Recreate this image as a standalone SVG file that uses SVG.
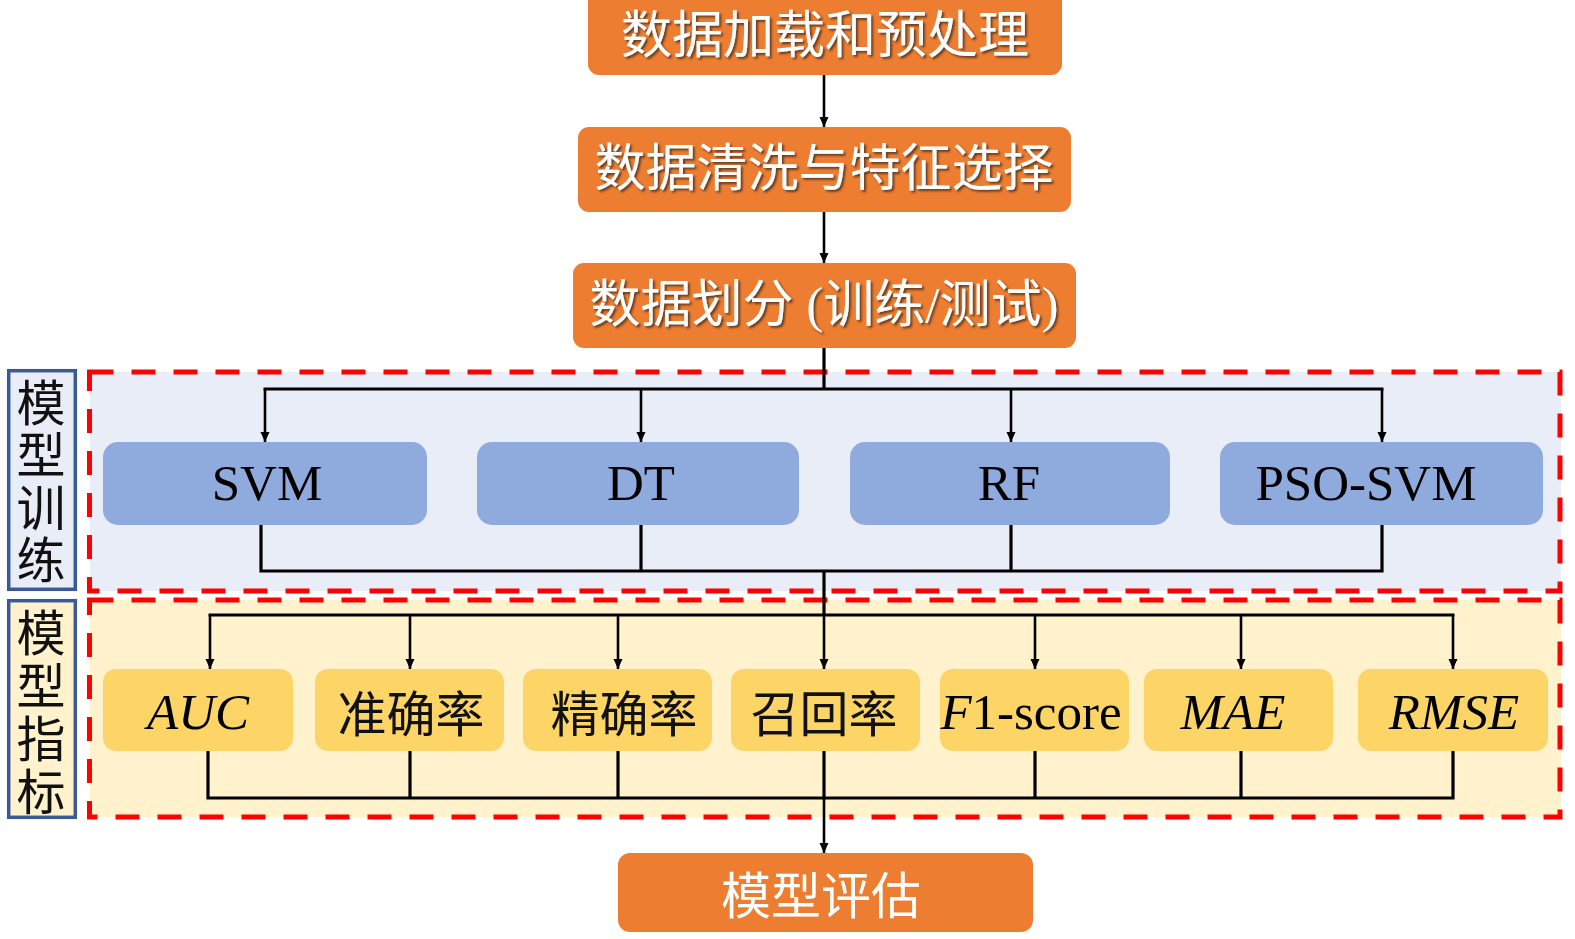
<svg xmlns="http://www.w3.org/2000/svg" width="1575" height="939" viewBox="0 0 1575 939">
<style>
.orange{fill:#ED7D31}
.blue{fill:#8FAADC}
.yellow{fill:#FCD566}
.zh-w{font-family:"Liberation Serif","Noto Sans CJK SC",serif;font-size:51px;fill:#fff;text-anchor:middle}
.lat{font-family:"Liberation Serif","Noto Sans CJK SC",serif;font-size:51px;fill:#000;text-anchor:middle}
.zh{font-family:"Noto Sans CJK SC",sans-serif;font-size:49px;fill:#111;text-anchor:middle}
.vt{font-family:"Noto Sans CJK SC",sans-serif;font-size:49px;fill:#111;writing-mode:vertical-rl;text-anchor:start}
.it{font-style:italic}
.region{stroke:#FF0000;stroke-width:5;stroke-dasharray:24 18;fill:none}
.label{stroke:#3A5A95;stroke-width:3.5}
.conn line,.conn polyline{stroke:#000;stroke-width:3.2;fill:none}
.conn .arr{stroke-width:2.6;marker-end:url(#ah)}
</style>
<defs>
<marker id="ah" viewBox="0 0 10 10" refX="10" refY="5" markerWidth="10" markerHeight="10" markerUnits="userSpaceOnUse" orient="auto"><path d="M0,0.5 L10,5 L0,9.5 z" fill="#000"/></marker>
<filter id="sh" x="-10%" y="-20%" width="120%" height="150%"><feDropShadow dx="2" dy="2" stdDeviation="0.8" flood-color="#3a2a1a" flood-opacity="0.75"/></filter>
</defs>

<!-- regions -->
<g id="region-train">
<rect x="90" y="372" width="1471" height="219" fill="#E9EDF7"/>
<rect class="region" x="89.5" y="372" width="1470.5" height="219"/>
</g>
<g id="region-metric">
<rect x="90" y="600" width="1471" height="217" fill="#FFF2CC"/>
<rect class="region" x="89.5" y="600" width="1470.5" height="217"/>
</g>

<g id="label-train">
<rect class="label" x="8.7" y="370.7" width="66.6" height="218.6" fill="#E9EDF7"/>
<text class="vt" x="41" y="377.5" letter-spacing="3.5">模型训练</text>
</g>
<g id="label-metric">
<rect class="label" x="8.7" y="600.7" width="66.6" height="216.6" fill="#FFF2CC"/>
<text class="vt" x="41" y="607.5" letter-spacing="4">模型指标</text>
</g>

<!-- connectors -->
<g id="connectors" class="conn">
<line class="arr" x1="824" y1="75" x2="824" y2="127"/>
<line class="arr" x1="824" y1="212" x2="824" y2="263"/>
<line x1="824" y1="348" x2="824" y2="389"/>
<line x1="263.5" y1="389" x2="1383.5" y2="389"/>
<line class="arr" x1="265" y1="389" x2="265" y2="442"/>
<line class="arr" x1="641" y1="389" x2="641" y2="442"/>
<line class="arr" x1="1011" y1="389" x2="1011" y2="442"/>
<line class="arr" x1="1382" y1="389" x2="1382" y2="442"/>
<polyline points="261,525 261,571 1382,571 1382,525"/>
<line x1="641" y1="525" x2="641" y2="571"/>
<line x1="1011" y1="525" x2="1011" y2="571"/>
<line x1="824" y1="571" x2="824" y2="615"/>
<line x1="208.5" y1="615" x2="1454.5" y2="615"/>
<line class="arr" x1="210" y1="615" x2="210" y2="669"/>
<line class="arr" x1="410" y1="615" x2="410" y2="669"/>
<line class="arr" x1="618" y1="615" x2="618" y2="669"/>
<line class="arr" x1="824" y1="615" x2="824" y2="669"/>
<line class="arr" x1="1035" y1="615" x2="1035" y2="669"/>
<line class="arr" x1="1241" y1="615" x2="1241" y2="669"/>
<line class="arr" x1="1453" y1="615" x2="1453" y2="669"/>
<polyline points="208,751 208,798 1453,798 1453,751"/>
<line x1="410" y1="751" x2="410" y2="798"/>
<line x1="618" y1="751" x2="618" y2="798"/>
<line x1="824" y1="751" x2="824" y2="798"/>
<line x1="1035" y1="751" x2="1035" y2="798"/>
<line x1="1241" y1="751" x2="1241" y2="798"/>
<line class="arr" x1="824" y1="798" x2="824" y2="853"/>
</g>

<!-- orange process nodes -->
<g id="node-load">
<rect class="orange" x="588" y="-12" width="474" height="87" rx="11"/>
<text class="zh-w" x="825" y="53" filter="url(#sh)">数据加载和预处理</text>
</g>
<g id="node-clean">
<rect class="orange" x="578" y="127" width="493" height="85" rx="11"/>
<text class="zh-w" x="824" y="186" filter="url(#sh)">数据清洗与特征选择</text>
</g>
<g id="node-split">
<rect class="orange" x="573" y="263" width="503" height="85" rx="11"/>
<text class="zh-w" x="824" y="322" filter="url(#sh)">数据划分 (训练/测试)</text>
</g>
<g id="node-eval">
<rect class="orange" x="618" y="853" width="415" height="79" rx="12"/>
<text class="zh-w" x="821" y="914" style="font-family:'Noto Sans CJK SC',sans-serif;font-size:50px">模型评估</text>
</g>

<!-- model nodes -->
<g id="node-svm"><rect class="blue" x="103" y="442" width="324" height="83" rx="15"/><text class="lat" x="267" y="500">SVM</text></g>
<g id="node-dt"><rect class="blue" x="477" y="442" width="322" height="83" rx="15"/><text class="lat" x="641" y="500">DT</text></g>
<g id="node-rf"><rect class="blue" x="850" y="442" width="320" height="83" rx="15"/><text class="lat" x="1009" y="500">RF</text></g>
<g id="node-psosvm"><rect class="blue" x="1220" y="442" width="323" height="83" rx="15"/><text class="lat" x="1366" y="500">PSO-SVM</text></g>

<!-- metric nodes -->
<g id="node-auc"><rect class="yellow" x="103" y="669" width="190" height="82" rx="13"/><text class="lat it" x="198" y="729">AUC</text></g>
<g id="node-acc"><rect class="yellow" x="315" y="669" width="189" height="82" rx="13"/><text class="zh" x="411" y="732">准确率</text></g>
<g id="node-prec"><rect class="yellow" x="523" y="669" width="189" height="82" rx="13"/><text class="zh" x="624" y="732">精确率</text></g>
<g id="node-recall"><rect class="yellow" x="731" y="669" width="189" height="82" rx="13"/><text class="zh" x="824" y="732">召回率</text></g>
<g id="node-f1"><rect class="yellow" x="940" y="669" width="189" height="82" rx="13"/><text class="lat" x="1031" y="729"><tspan class="it">F</tspan>1-score</text></g>
<g id="node-mae"><rect class="yellow" x="1144" y="669" width="189" height="82" rx="13"/><text class="lat it" x="1233" y="729">MAE</text></g>
<g id="node-rmse"><rect class="yellow" x="1358" y="669" width="190" height="82" rx="13"/><text class="lat it" x="1454" y="729">RMSE</text></g>
</svg>
